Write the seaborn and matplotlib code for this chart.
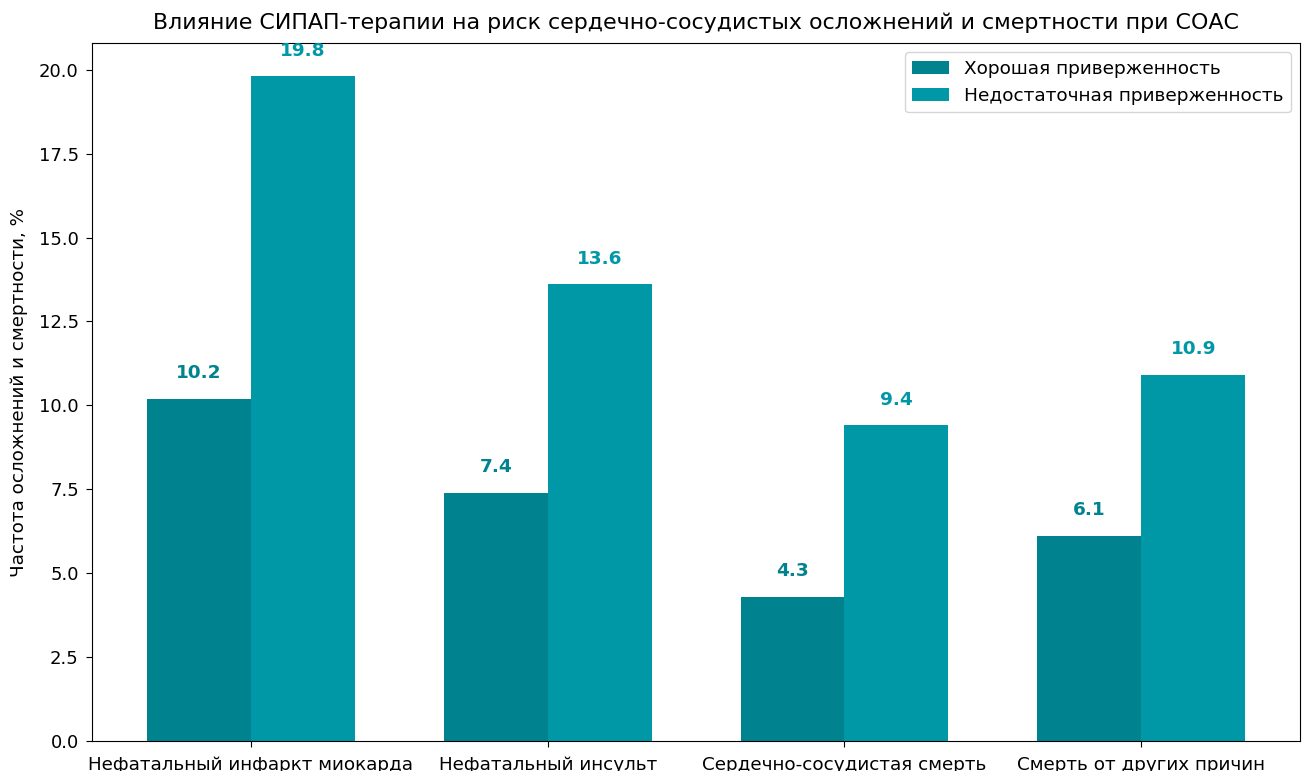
import pandas as pd
import matplotlib
matplotlib.use('Agg')
import matplotlib.pyplot as plt
import seaborn as sns

# Data
categories = ["Нефатальный инфаркт миокарда", "Нефатальный инсульт",
              "Сердечно-сосудистая смерть", "Смерть от других причин"]
good_adherence = [10.2, 7.4, 4.3, 6.1]
poor_adherence = [19.8, 13.6, 9.4, 10.9]
groups = ["Хорошая приверженность", "Недостаточная приверженность"]
colors = ["#00838F", "#0097A7"]

df = pd.DataFrame({
    "Категория": categories * 2,
    "Значение": good_adherence + poor_adherence,
    "Группа": [groups[0]] * len(categories) + [groups[1]] * len(categories),
})

plt.rcParams['font.family'] = ['DejaVu Sans']
plt.rcParams['font.size'] = 13

fig = plt.figure(figsize=(13.04, 7.71), dpi=100)
ax = fig.add_axes([0.0706, 0.039, 0.9264, 0.905])

sns.barplot(data=df, x="Категория", y="Значение", hue="Группа",
            palette=colors, width=0.7, saturation=1, ax=ax)

# value labels above bars
for container, col in zip(ax.containers, colors):
    for bar in container:
        h = bar.get_height()
        ax.text(bar.get_x() + bar.get_width() / 2, h + 0.5, f"{h:.1f}",
                ha='center', va='bottom', color=col, fontweight='bold',
                fontsize=13.3)

ax.set_xlim(-0.535, 3.535)
ax.set_ylim(0, 20.79)
ax.set_xlabel("")
ax.set_ylabel("Частота осложнений и смертности, %", fontsize=13.2, labelpad=8)
ax.set_title("Влияние СИПАП-терапии на риск сердечно-сосудистых осложнений и смертности при СОАС",
             fontsize=15.9, pad=10)
ax.tick_params(labelsize=13, length=4.5, pad=5)
ax.tick_params(axis='x', labelsize=13.2, pad=6)
ax.legend(loc='upper right', fontsize=13.3)

fig.savefig("out.png", dpi=100)
